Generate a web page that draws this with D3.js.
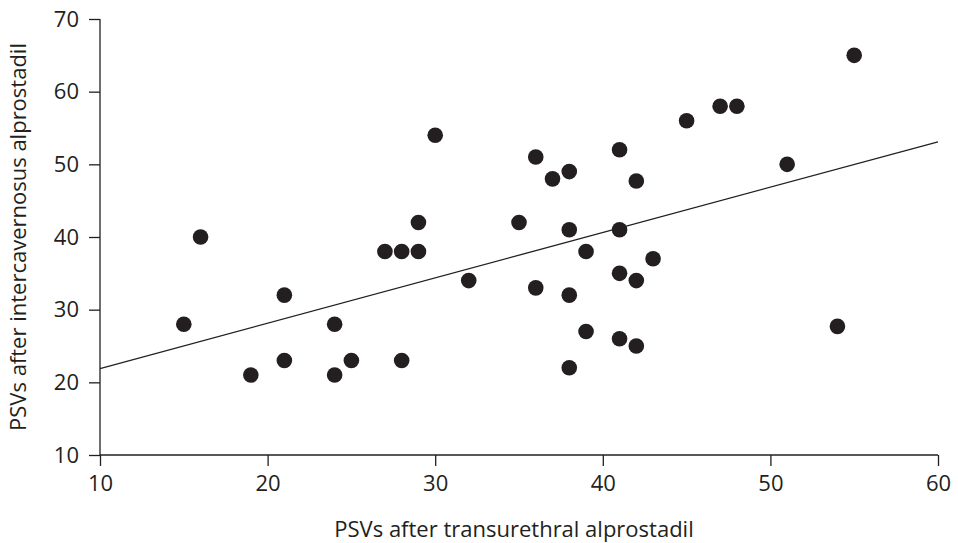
<!DOCTYPE html>
<html>
<head>
<meta charset="utf-8">
<script src="https://cdn.jsdelivr.net/npm/d3@7"></script>
<style>
  body { margin: 0; background: #fff; }
  text { font-family: "Open Sans", "Noto Sans", sans-serif; fill: #231f20; }
</style>
</head>
<body>
<div id="chart"></div>
<script>
// transurethral PSV (x) vs intercavernosus PSV (y)
const psvTransurethral = [15, 16, 19, 21, 21, 24, 24, 25, 27, 28, 28, 29, 29, 30, 32, 35, 36, 36, 37, 38, 38, 38, 38, 39, 39, 41, 41, 41, 41, 42, 42, 42, 43, 45, 47, 48, 51, 54, 55]
const psvIntercavernosus = [28, 40, 21, 32, 23, 28, 21, 23, 38, 38, 23, 38, 42, 54, 34, 42, 51, 33, 48, 49, 41, 32, 22, 38, 27, 52, 41, 35, 26, 47.7, 34, 25, 37, 56, 58, 58, 50, 27.7, 65]
const fitX = [10, 60]
const fitY = [21.9, 53.1]
const xTicks = [10, 20, 30, 40, 50, 60]
const yTicks = [10, 20, 30, 40, 50, 60, 70]

const width = 958, height = 543

const svg = d3.select("#chart").append("svg")
  .attr("width", width)
  .attr("height", height)

const x = d3.scaleLinear().domain([10, 60]).range([100, 938])
const y = d3.scaleLinear().domain([10, 70]).range([455, 19])

const xAxis = svg.append("g")
  .attr("transform", `translate(0,${y(10)})`)
  .call(d3.axisBottom(x).tickValues(xTicks).tickSize(11).tickPadding(9))
const yAxis = svg.append("g")
  .attr("transform", `translate(${x(10)},0)`)
  .call(d3.axisLeft(y).tickValues(yTicks).tickSize(11).tickPadding(10))

xAxis.select(".domain").attr("d", `M${x(10)},0H${x(60)}`)
yAxis.select(".domain").attr("d", `M0,${y(10)}V${y(70)}`)
svg.selectAll(".domain, .tick line").attr("stroke", "#231f20").attr("stroke-width", 1.3)
svg.selectAll(".tick text")
  .style("font-size", "22px")
  .style("font-family", '"Open Sans", sans-serif')
  .attr("fill", "#231f20")

// fitted line
const fit = fitX.map((d, i) => [d, fitY[i]])
svg.append("path")
  .datum(fit)
  .attr("fill", "none")
  .attr("stroke", "#231f20")
  .attr("stroke-width", 1.3)
  .attr("d", d3.line().x(d => x(d[0])).y(d => y(d[1])))

const pts = psvTransurethral.map((d, i) => ({x: d, y: psvIntercavernosus[i]}))
svg.selectAll("circle.pt")
  .data(pts)
  .enter().append("circle")
    .attr("class", "pt")
    .attr("cx", d => x(d.x))
    .attr("cy", d => y(d.y))
    .attr("r", 7.8)
    .attr("fill", "#231f20")

svg.append("text")
  .attr("x", 514)
  .attr("y", 537)
  .attr("text-anchor", "middle")
  .style("font-size", "22px")
  .text("PSVs after transurethral alprostadil")

svg.append("text")
  .attr("transform", `translate(26,${(y(10) + y(70)) / 2}) rotate(-90)`)
  .attr("text-anchor", "middle")
  .style("font-size", "22px")
  .text("PSVs after intercavernosus alprostadil")
</script>
</body>
</html>
